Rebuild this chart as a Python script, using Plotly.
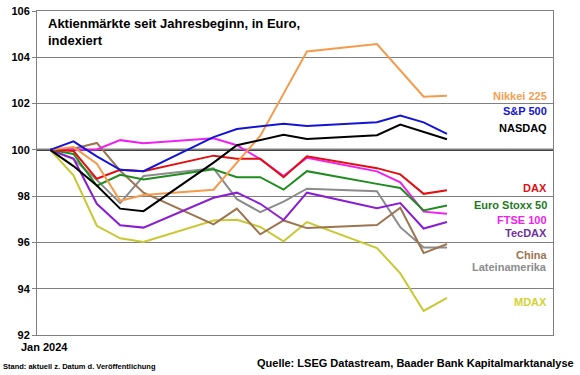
import plotly.graph_objects as go

dates = ["2024-01-01", "2024-01-02", "2024-01-03", "2024-01-04", "2024-01-05",
         "2024-01-08", "2024-01-09", "2024-01-10", "2024-01-11", "2024-01-12",
         "2024-01-15", "2024-01-16", "2024-01-17", "2024-01-18"]

nikkei = [100, 100.12, 99.4, 97.8, 98.05, 98.28, 99.45, 100.6, 102.43, 104.25, 104.57, 103.45, 102.3, 102.34]
sp500 = [100, 100.37, 99.72, 99.14, 99.08, 100.55, 100.9, 101.03, 101.13, 101.03, 101.19, 101.48, 101.19, 100.69]
nasdaq = [100, 99.3, 98.46, 97.46, 97.35, 99.45, 100.2, 100.43, 100.65, 100.47, 100.63, 101.09, 100.76, 100.46]
dax = [100, 99.95, 98.75, 99.14, 99.08, 99.75, 99.62, 99.62, 98.82, 99.72, 99.21, 98.94, 98.1, 98.25]
eurostoxx = [100, 99.82, 98.45, 98.92, 98.72, 99.16, 98.82, 98.82, 98.28, 99.08, 98.53, 98.35, 97.38, 97.6]
ftse = [100, 100.0, 100.02, 100.42, 100.29, 100.5, 100.2, 99.6, 98.87, 99.66, 99.07, 98.6, 97.33, 97.24]
tecdax = [100, 99.62, 97.67, 96.74, 96.64, 97.93, 98.15, 97.67, 96.97, 98.15, 97.48, 97.7, 96.6, 96.88]
china = [100, 100.05, 100.3, 99.1, 98.15, 96.78, 97.46, 96.35, 96.95, 96.62, 96.75, 97.5, 95.54, 95.93]
latam = [100, 99.6, 98.7, 97.7, 98.87, 99.2, 97.87, 97.31, 97.76, 98.32, 98.21, 96.66, 95.78, 95.78]
mdax = [100, 98.9, 96.72, 96.18, 96.02, 96.95, 96.98, 96.67, 96.05, 96.88, 95.76, 94.66, 93.04, 93.6]

names = ["Nikkei 225", "S&P 500", "NASDAQ", "DAX", "Euro Stoxx 50", "FTSE 100",
         "TecDAX", "China", "Lateinamerika", "MDAX"]
series = [nikkei, sp500, nasdaq, dax, eurostoxx, ftse, tecdax, china, latam, mdax]

y_ticks = [92, 94, 96, 98, 100, 102, 104, 106]

line_colors = ["#F59A4B", "#1414D2", "#000000", "#E01010", "#1E8C1E", "#F020F0",
               "#8A1ED0", "#9C7450", "#8C8C8C", "#C8C832"]
label_colors = ["#F2A055", "#1414D2", "#000000", "#E01010", "#1E7A1E", "#F020F0",
                "#7030A0", "#9C7450", "#8C8C8C", "#D2D232"]
label_y = [102.34, 101.66, 100.95, 98.36, 97.6, 96.95, 96.41, 95.46, 94.94, 93.43]

FONT = "Arial, Liberation Sans, sans-serif"

fig = go.Figure()
draw_order = [9, 8, 7, 6, 5, 4, 3, 0, 2, 1]
for i in draw_order:
    fig.add_trace(go.Scatter(x=dates, y=series[i], mode="lines", name=names[i],
                             line=dict(color=line_colors[i], width=2),
                             showlegend=False, hoverinfo="skip"))

for i, n in enumerate(names):
    fig.add_annotation(x=0.992, xref="paper", y=label_y[i], yref="y",
                       text="<b>%s</b>" % n, showarrow=False, xanchor="right",
                       yanchor="middle",
                       font=dict(family=FONT, size=11, color=label_colors[i]))

fig.add_shape(type="line", xref="paper", x0=0, x1=1, yref="y", y0=100, y1=100,
              line=dict(color="black", width=2), layer="below")

fig.add_annotation(x=0.017, xref="paper", y=0.99, yref="paper",
                   text="<b>Aktienmärkte seit Jahresbeginn, in Euro,<br>indexiert</b>",
                   showarrow=False, xanchor="left", yanchor="top", align="left",
                   font=dict(family=FONT, size=13, color="black"))

fig.add_annotation(x=-0.07, xref="paper", y=-0.097, yref="paper",
                   text="<b>Stand: aktuell z. Datum d. Veröffentlichung</b>",
                   showarrow=False, xanchor="left", yanchor="middle",
                   font=dict(family=FONT, size=7.5, color="black"))
fig.add_annotation(x=1.045, xref="paper", y=-0.085, yref="paper",
                   text="<b>Quelle: LSEG Datastream, Baader Bank Kapitalmarktanalyse</b>",
                   showarrow=False, xanchor="right", yanchor="middle",
                   font=dict(family=FONT, size=11, color="black"))

fig.update_layout(
    width=580, height=375,
    margin=dict(l=37, r=27, t=11, b=40, autoexpand=False),
    paper_bgcolor="white", plot_bgcolor="white",
    showlegend=False,
    xaxis=dict(type="date", range=["2023-12-31 10:30", "2024-01-22 13:00"],
               tickvals=["2024-01-01"], ticktext=["<b>Jan 2024</b>"],
               ticks="", showgrid=False, zeroline=False, automargin=False,
               showline=True, linecolor="#808080", linewidth=1, mirror=True,
               tickfont=dict(family=FONT, size=11, color="black"),
               ticklabelshift=-6, ticklabelstandoff=2),
    yaxis=dict(range=[92, 106], tickvals=y_ticks, automargin=False,
               ticktext=["<b>%d</b>" % v for v in y_ticks],
               showgrid=True, gridcolor="#808080", gridwidth=1, zeroline=False,
               showline=True, linecolor="#808080", linewidth=1, mirror=True,
               ticks="outside", ticklen=4, tickcolor="#808080",
               tickfont=dict(family=FONT, size=11, color="black")),
)

fig.write_html("out.html", config={"displayModeBar": False},
               post_script="document.body.style.margin='0';document.body.style.overflow='hidden';")
